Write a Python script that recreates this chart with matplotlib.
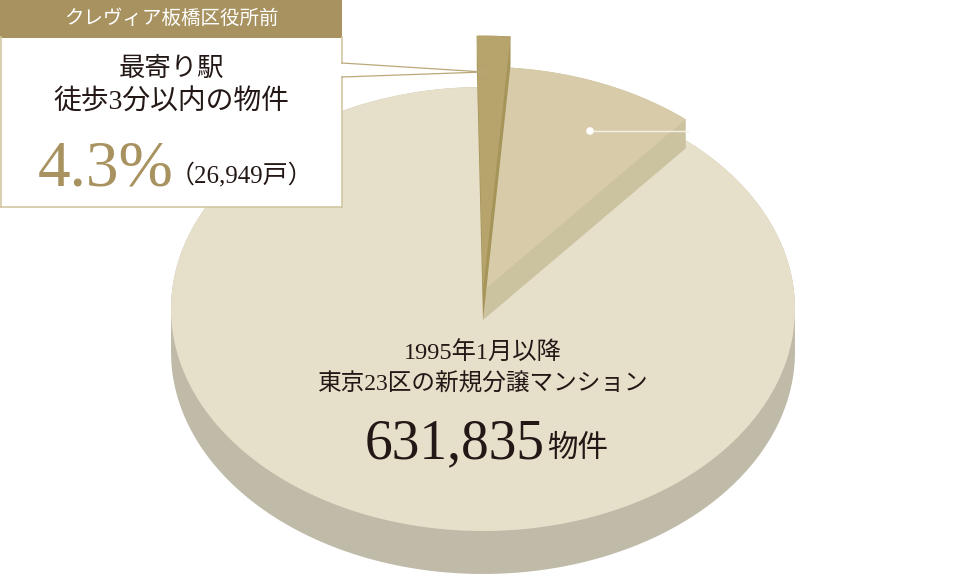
import numpy as np
import matplotlib
matplotlib.use('Agg')
import matplotlib.pyplot as plt
from matplotlib.patches import Polygon, Rectangle, Circle

# ---------------------------------------------------------------------------
# Data
# ---------------------------------------------------------------------------
header_label = 'クレヴィア板橋区役所前'
box_lines = ['最寄り駅', '徒歩3分以内の物件']
near_pct = 4.3
near_units = 26949
total_lines = ['1995年1月以降', '東京23区の新規分譲マンション']
total_units = 631835

# drawn wedge shares (% of the circle, as they appear), clockwise from 12 o'clock
wedge_names = ['gold', 'tan']
wedge_share = [1.5, 9.9]
wedge_start_deg = -1.0

# ---------------------------------------------------------------------------
# Geometry / style (pixel space, y down)
# ---------------------------------------------------------------------------
W, H = 975, 576
CX, CY = 483, 309
RA, RB = 312, 222
BASE_T = 43
LIFT = 18
SLICE_T = 29
RADIUS = {'gold': 1.15, 'tan': 1.01}

C_MAIN_TOP = '#e6dfca'
C_MAIN_SIDE = '#c0bba9'
C_TAN_TOP = '#d8cbaa'
C_TAN_SIDE = '#cbc2a0'
C_GOLD_TOP = '#b6a46c'
C_GOLD_SIDE = '#a69559'
C_HEADER = '#a8925f'
C_BORDER = '#d2c6a4'
C_LINE = '#bba97c'
C_TEXT = '#231815'

SERIF_JP = ['Liberation Serif', 'Noto Sans CJK JP']
JP = ['Noto Sans CJK JP', 'DejaVu Sans']


def _hull(pts):
    pts = sorted(set(map(tuple, np.round(pts, 3))))
    if len(pts) < 3:
        return np.array(pts)

    def cross(o, a, b):
        return (a[0] - o[0]) * (b[1] - o[1]) - (a[1] - o[1]) * (b[0] - o[0])

    lower, upper = [], []
    for p in pts:
        while len(lower) >= 2 and cross(lower[-2], lower[-1], p) <= 0:
            lower.pop()
        lower.append(p)
    for p in reversed(pts):
        while len(upper) >= 2 and cross(upper[-2], upper[-1], p) <= 0:
            upper.pop()
        upper.append(p)
    return np.array(lower[:-1] + upper[:-1])


def _sector(th1, th2, r, cy, full=False):
    th = np.radians(np.linspace(th1, th2, 200))
    x = CX + r * RA * np.sin(th)
    y = cy - r * RB * np.cos(th)
    pts = np.column_stack([x, y])
    if not full:
        pts = np.vstack([[CX, cy], pts])
    return pts


def _draw_solid(ax, top, thick, c_top, c_side, z):
    side = _hull(np.vstack([top, top + [0, thick]]))
    ax.add_patch(Polygon(side, closed=True, facecolor=c_side, edgecolor='none', zorder=z))
    ax.add_patch(Polygon(top, closed=True, facecolor=c_top, edgecolor='none', zorder=z + 0.1))


fig = plt.figure(figsize=(W / 100, H / 100), dpi=100)
ax = fig.add_axes([0, 0, 1, 1])
ax.set_xlim(0, W)
ax.set_ylim(H, 0)
ax.axis('off')

# base disc
_draw_solid(ax, _sector(0, 360, 1.0, CY, full=True), BASE_T, C_MAIN_TOP, C_MAIN_SIDE, 1)

# lifted wedges
ang = wedge_start_deg
spans = {}
for name, share in zip(wedge_names, wedge_share):
    spans[name] = (ang, ang + share * 3.6)
    ang += share * 3.6

_draw_solid(ax, _sector(*spans['tan'], RADIUS['tan'], CY - LIFT), SLICE_T,
            C_TAN_TOP, C_TAN_SIDE, 3)
_draw_solid(ax, _sector(*spans['gold'], RADIUS['gold'], CY - LIFT), SLICE_T,
            C_GOLD_TOP, C_GOLD_SIDE, 5)

# white marker on the tan wedge
ax.add_patch(Circle((590, 131), 3.8, facecolor='white', edgecolor='none', zorder=8))
ax.plot([590, 688], [131, 131], color='#f4f0e4', lw=1.0, zorder=7)

# callout box
ax.add_patch(Rectangle((0, 37), 342, 170, facecolor='white', edgecolor='none', zorder=6))
ax.add_patch(Rectangle((0, 0), 342, 38, facecolor=C_HEADER, edgecolor='none', zorder=7))
ax.plot([0.8, 0.8], [37, 207], color=C_BORDER, lw=1.2, zorder=7)
ax.plot([0, 342], [207, 207], color=C_BORDER, lw=1.2, zorder=7)
ax.plot([342, 342], [37, 63], color=C_BORDER, lw=1.2, zorder=7)
ax.plot([342, 342], [77, 207], color=C_BORDER, lw=1.2, zorder=7)
ax.plot([342, 484, 342], [63, 72, 77], color=C_LINE, lw=0.9, zorder=9)

ax.text(171, 18, header_label, color='white', fontsize=14, family=JP,
        ha='center', va='center', zorder=10)
ax.text(171, 69, box_lines[0], color=C_TEXT, fontsize=19, family=SERIF_JP,
        ha='center', va='center', zorder=10)
ax.text(171, 103, box_lines[1], color=C_TEXT, fontsize=20, family=SERIF_JP,
        ha='center', va='center', zorder=10)
ax.text(38, 186, f'{near_pct}%', color=C_HEADER, fontsize=47, family=SERIF_JP,
        ha='left', va='baseline', zorder=10)
ax.text(170, 182, f'（{near_units:,}戸）', color=C_TEXT, fontsize=18, family=SERIF_JP,
        ha='left', va='baseline', zorder=10)

# main label
ax.text(CX, 353, total_lines[0], color=C_TEXT, fontsize=17.5, family=SERIF_JP,
        ha='center', va='center', zorder=10)
ax.text(CX, 384, total_lines[1], color=C_TEXT, fontsize=17, family=SERIF_JP,
        ha='center', va='center', zorder=10)
ax.text(545, 458, f'{total_units:,}', color=C_TEXT, fontsize=40, family=SERIF_JP,
        ha='right', va='baseline', zorder=10)
ax.text(547, 457, '物件', color=C_TEXT, fontsize=22, family=JP,
        ha='left', va='baseline', zorder=10)

fig.savefig('out.png', dpi=100, facecolor='white')
